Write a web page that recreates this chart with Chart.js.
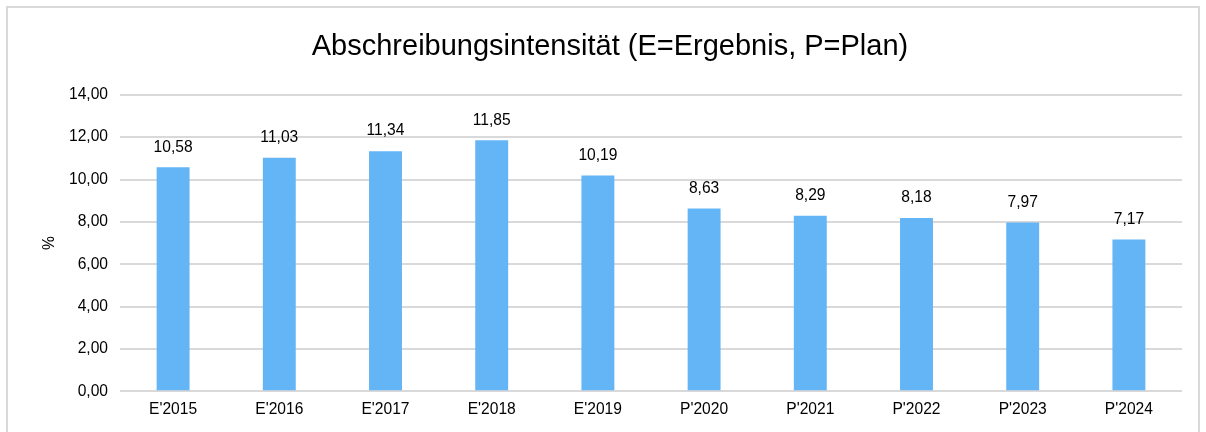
<!DOCTYPE html>
<html>
<head>
<meta charset="utf-8">
<script src="https://cdn.jsdelivr.net/npm/chart.js@4/dist/chart.umd.min.js"></script>
<style>
  html, body { margin: 0; padding: 0; background: #fff; overflow: hidden; }
  #rahmen { position: absolute; left: 6px; top: 6px; width: 1194px; height: 440px; border: 2px solid #d9d9d9; box-sizing: border-box; }
  #wrap { position: absolute; left: 0; top: 0; width: 1206px; height: 432px; }
</style>
</head>
<body>
<div id="rahmen"></div>
<div id="wrap"><canvas id="wykres"></canvas></div>
<script>
'use strict';

// Daten
var kategorien = ["E'2015", "E'2016", "E'2017", "E'2018", "E'2019", "P'2020", "P'2021", "P'2022", "P'2023", "P'2024"];
var werte = [10.58, 11.03, 11.34, 11.85, 10.19, 8.63, 8.29, 8.18, 7.97, 7.17];
var titel = 'Abschreibungsintensität (E=Ergebnis, P=Plan)';
var achseY = '%';

var FONT = "'Liberation Sans', Arial, sans-serif";
var FS = 15.6;

function formatDe(v) {
  return v.toFixed(2).replace('.', ',');
}

// Werte über den Balken
var wertLabels = {
  id: 'wertLabels',
  afterDatasetsDraw: function (chart) {
    var ctx = chart.ctx;
    var meta = chart.getDatasetMeta(0);
    ctx.save();
    ctx.font = FS + 'px ' + FONT;
    ctx.fillStyle = '#000';
    ctx.textAlign = 'center';
    ctx.textBaseline = 'middle';
    meta.data.forEach(function (bar, i) {
      ctx.fillText(formatDe(werte[i]), bar.x, bar.y - 20);
    });
    ctx.restore();
  }
};

new Chart(document.getElementById('wykres'), {
  type: 'bar',
  data: {
    labels: kategorien,
    datasets: [{
      data: werte,
      backgroundColor: '#64b5f6',
      borderWidth: 0,
      categoryPercentage: 1,
      barPercentage: 0.31
    }]
  },
  options: {
    responsive: true,
    maintainAspectRatio: false,
    animation: false,
    layout: { padding: { left: 38, right: 24, top: 0, bottom: 4 } },
    plugins: {
      legend: { display: false },
      tooltip: { enabled: false },
      title: {
        display: true,
        text: titel,
        color: '#000',
        font: { family: FONT, size: 29, weight: 'normal' },
        padding: { top: 30, bottom: 30 }
      }
    },
    scales: {
      x: {
        grid: { display: false, drawTicks: false },
        border: { display: false },
        ticks: { color: '#000', font: { family: FONT, size: FS }, padding: 9, maxRotation: 0 }
      },
      y: {
        min: 0,
        max: 14,
        afterFit: function (s) { s.width = 82; },
        grid: { color: '#d9d9d9', lineWidth: 2, drawTicks: false },
        border: { display: false },
        ticks: {
          stepSize: 2,
          color: '#000',
          font: { family: FONT, size: FS },
          padding: 12,
          callback: function (v) { return formatDe(v); }
        },
        title: {
          display: true,
          text: achseY,
          color: '#000',
          font: { family: FONT, size: FS },
          padding: { top: 2, bottom: 0 }
        }
      }
    }
  },
  plugins: [wertLabels]
});
</script>
</body>
</html>
